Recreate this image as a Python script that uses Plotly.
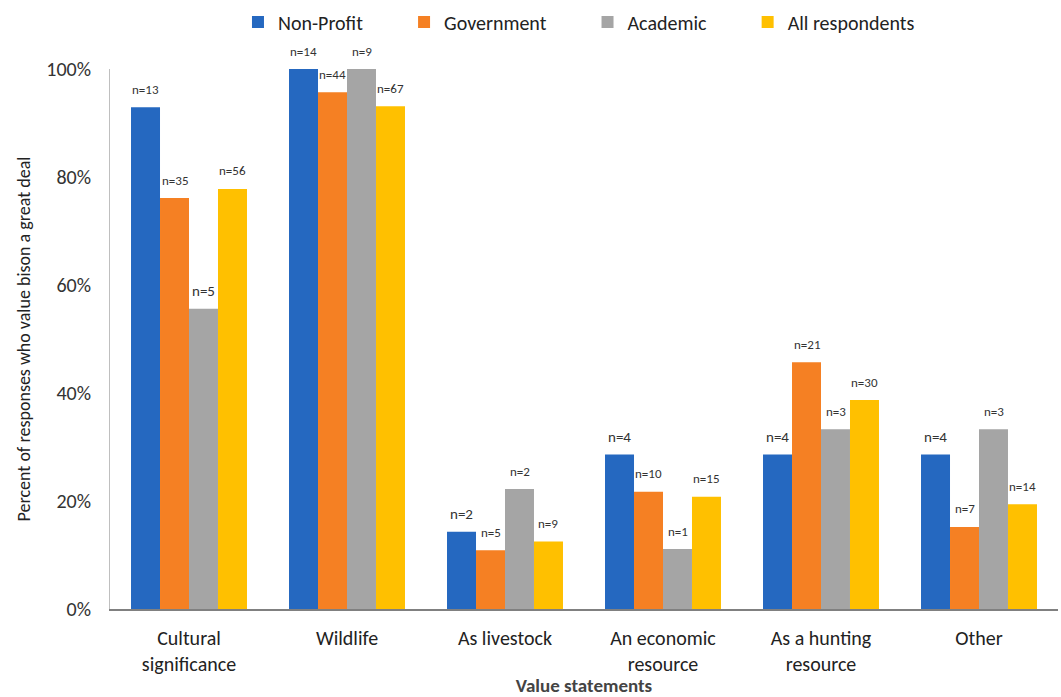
import plotly.graph_objects as go

categories = ["Cultural<br>significance", "Wildlife", "As livestock",
              "An economic<br>resource", "As a hunting<br>resource", "Other"]
series_names = ["Non-Profit", "Government", "Academic", "All respondents"]
non_profit = [0.929, 1.000, 0.143, 0.286, 0.286, 0.286]
government = [0.761, 0.957, 0.109, 0.217, 0.457, 0.152]
academic = [0.556, 1.000, 0.222, 0.111, 0.333, 0.333]
all_resp = [0.778, 0.931, 0.125, 0.208, 0.387, 0.194]
np_labels = ["n=13", "n=14", "n=2", "n=4", "n=4", "n=4"]
gov_labels = ["n=35", "n=44", "n=5", "n=10", "n=21", "n=7"]
acad_labels = ["n=5", "n=9", "n=2", "n=1", "n=3", "n=3"]
all_labels = ["n=56", "n=67", "n=9", "n=15", "n=30", "n=14"]

values = [non_profit, government, academic, all_resp]
labels = [np_labels, gov_labels, acad_labels, all_labels]
colors = ["#2568C0", "#F58023", "#A5A5A5", "#FFC000"]
label_sizes = [
    [13, 13, 15, 15, 15, 15],
    [13, 13, 13, 13, 13, 13],
    [15, 13, 13, 13, 13, 13],
    [13, 13, 13, 13, 13, 13],
]
legend_pad = ["\u00a0" * 8, "\u00a0" * 8, "\u00a0" * 8, ""]

FONT = "Carlito, Lato, sans-serif"
bargap = 0.266

fig = go.Figure()
for name, vals, col, pad in zip(series_names, values, colors, legend_pad):
    fig.add_trace(go.Bar(name=name + pad, x=categories, y=vals, marker_color=col,
                         marker_line_width=0))

bw = (1 - bargap) / len(series_names)
for j, (vals, labs) in enumerate(zip(values, labels)):
    for i, (v, t) in enumerate(zip(vals, labs)):
        fig.add_annotation(x=i + (j - 1.5) * bw, y=v, xref="x", yref="y",
                           text=t, showarrow=False, yanchor="middle", yshift=18,
                           font=dict(family=FONT, size=label_sizes[j][i], color="#333333"))

fig.update_layout(
    width=1061, height=697,
    barmode="group", bargap=bargap, bargroupgap=0,
    plot_bgcolor="white", paper_bgcolor="white",
    margin=dict(l=110, r=3, t=64, b=88),
    font=dict(family=FONT, color="#222222"),
    legend=dict(orientation="h", x=0.135, xanchor="left", y=1.087, yanchor="middle",
                font=dict(size=20, family=FONT, color="#222222"),
                traceorder="normal"),
    showlegend=True,
)
fig.update_yaxes(range=[0, 1], tickformat=".0%", tickvals=[0, 0.2, 0.4, 0.6, 0.8, 1.0],
                 showgrid=False, zeroline=False, showline=True, linecolor="#BFBFBF",
                 linewidth=1, ticks="", ticklabelstandoff=14, automargin=False,
                 tickfont=dict(size=20, family=FONT, color="#333333"),
                 title=dict(text="Percent of responses who value bison a great deal",
                            font=dict(size=18, family=FONT, color="#222222"), standoff=10))
fig.update_xaxes(showgrid=False, showline=True, linecolor="#808080", linewidth=1.5,
                 ticks="", ticklabelstandoff=10, automargin=False,
                 tickfont=dict(size=20, family=FONT, color="#222222"),
                 title=dict(text="<b>Value statements</b>",
                            font=dict(size=19, family=FONT, color="#444444"), standoff=6))

fig.write_html("out.html", config={"displayModeBar": False},
               post_script="document.body.style.margin='0px';")
